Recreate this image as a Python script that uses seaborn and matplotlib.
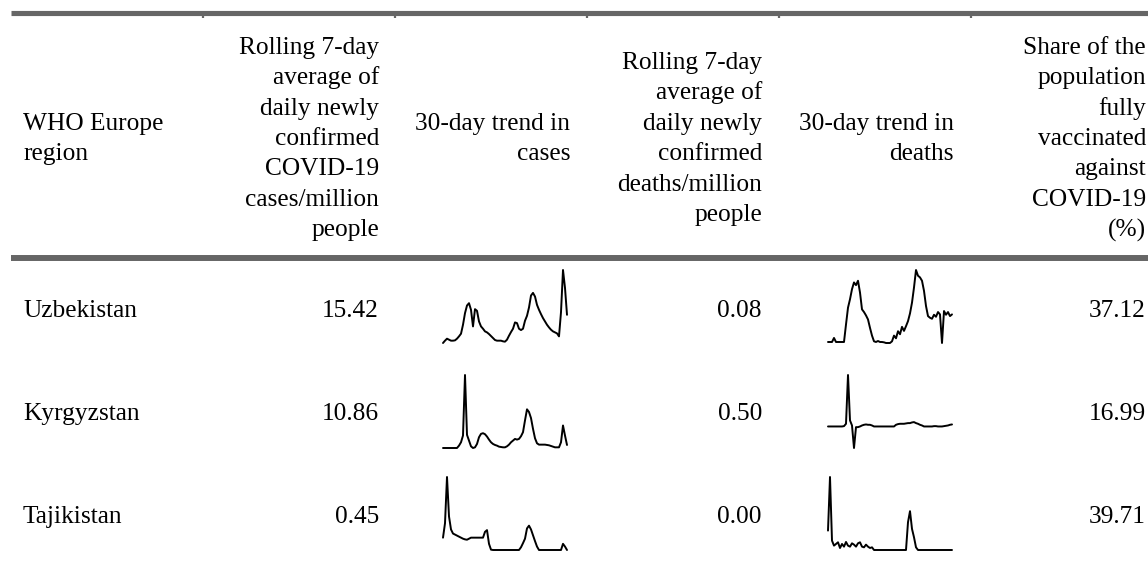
import matplotlib
matplotlib.use("Agg")
import matplotlib.pyplot as plt
import seaborn as sns

# Table content
regions = ["Uzbekistan", "Kyrgyzstan", "Tajikistan"]
cases_per_million = ["15.42", "10.86", "0.45"]
deaths_per_million = ["0.08", "0.50", "0.00"]
share_vaccinated = ["37.12", "16.99", "39.71"]

headers = [
    ["WHO Europe", "region"],
    ["Rolling 7-day", "average of", "daily newly", "confirmed", "COVID-19", "cases/million", "people"],
    ["30-day trend in", "cases"],
    ["Rolling 7-day", "average of", "daily newly", "confirmed", "deaths/million", "people"],
    ["30-day trend in", "deaths"],
    ["Share of the", "population", "fully", "vaccinated", "against", "COVID-19", "(%)"],
]

# Trend values (relative units)
uzb_cases = [0, 7, 13, 10, 7, 7, 8, 13, 20, 28, 55, 90, 113, 120, 100, 50, 102, 97, 65, 50,
             43, 35, 32, 27, 21, 15, 9, 7, 7, 7, 5, 4, 10, 22, 33, 43, 62, 60, 43, 39,
             43, 67, 82, 107, 143, 151, 140, 115, 100, 87, 75, 65, 55, 47, 40, 35, 32, 29, 20, 93,
             220, 166, 85]
uzb_deaths = [3, 3, 3, 15, 3, 3, 3, 3, 3, 55, 105, 130, 160, 180, 172, 185, 150, 100, 92, 82,
              70, 45, 22, 5, 3, 6, 3, 3, 2, 0, 0, 0, 5, 22, 14, 35, 26, 48, 36, 50,
              65, 88, 120, 165, 217, 200, 195, 185, 155, 110, 80, 75, 72, 84, 78, 92, 85, 0, 95, 84,
              92, 80, 85]
kgz_cases = [3, 3, 3, 3, 3, 3, 3, 3, 10, 20, 40, 220, 42, 25, 8, 3, 5, 15, 35, 45,
             47, 44, 37, 28, 20, 15, 12, 10, 7, 6, 5, 5, 8, 13, 20, 25, 30, 28, 30, 38,
             50, 85, 118, 110, 92, 60, 32, 17, 13, 13, 13, 13, 12, 11, 9, 7, 5, 5, 5, 20,
             70, 40, 12]
kgz_deaths = [67, 67, 67, 67, 67, 67, 67, 67, 68, 75, 220, 85, 70, 3, 65, 65, 67, 70, 72, 73,
              72, 72, 70, 67, 67, 67, 67, 67, 67, 67, 67, 67, 67, 67, 72, 74, 75, 75, 75, 76,
              77, 77, 79, 80, 77, 75, 72, 70, 67, 67, 67, 67, 67, 68, 68, 67, 67, 67, 68, 69,
              70, 72, 73]
tjk_cases = [38, 80, 215, 100, 62, 50, 47, 44, 41, 38, 35, 33, 32, 35, 38, 38, 38, 38, 38, 38,
             38, 55, 60, 20, 3, 2, 2, 2, 2, 2, 2, 2, 2, 2, 2, 2, 2, 2, 2, 10,
             22, 35, 65, 73, 62, 45, 28, 12, 2, 2, 2, 2, 2, 2, 2, 2, 2, 2, 2, 2,
             20, 12, 2]
tjk_deaths = [60, 220, 30, 15, 20, 25, 8, 20, 12, 26, 15, 12, 22, 18, 12, 22, 25, 12, 10, 18,
              12, 8, 10, 2, 2, 2, 2, 2, 2, 2, 2, 2, 2, 2, 2, 2, 2, 2, 2, 2,
              85, 118, 65, 40, 10, 2, 2, 2, 2, 2, 2, 2, 2, 2, 2, 2, 2, 2, 2, 2,
              2, 2, 2]

case_trends = [uzb_cases, kgz_cases, tjk_cases]
death_trends = [uzb_deaths, kgz_deaths, tjk_deaths]

sns.set_theme(style="white")
plt.rcParams["font.family"] = ["Liberation Serif", "DejaVu Serif"]

W, H = 1148, 563
fig = plt.figure(figsize=(W / 100, H / 100), dpi=100)
fig.patch.set_facecolor("white")

# Full-figure axes in pixel units for the table layout
ax = fig.add_axes([0, 0, 1, 1])
ax.set_xlim(0, W)
ax.set_ylim(H, 0)
ax.axis("off")

fs = 18.3
rule = "#666666"
ax.hlines(12.5, 11, W, color=rule, linewidth=3.7)
ax.hlines(258, 11, W, color=rule, linewidth=4.3)
for bx in [203, 395, 587, 779, 971]:
    ax.vlines(bx, 15, 17.5, color=rule, linewidth=1.6)

# header
col_x = [23, 379, 570, 762, 954, 1146]
col_ha = ["left", "right", "right", "right", "right", "right"]
spacing = 30.4
for lines, x, ha in zip(headers, col_x, col_ha):
    n = len(lines)
    for i, line in enumerate(lines):
        c = 137 + (i - (n - 1) / 2) * spacing
        ax.text(x, c + 8, line, ha=ha, va="baseline", fontsize=fs, color="black")

# body rows
row_base = [317, 420, 523]
for r, yb in enumerate(row_base):
    ax.text(23, yb, regions[r], ha="left", va="baseline", fontsize=fs, color="black")
    ax.text(379, yb, cases_per_million[r], ha="right", va="baseline", fontsize=fs, color="black")
    ax.text(762, yb, deaths_per_million[r], ha="right", va="baseline", fontsize=fs, color="black")
    ax.text(1146, yb, share_vaccinated[r], ha="right", va="baseline", fontsize=fs, color="black")

# sparklines
spark_tops = [270, 375, 477]
spark_h = 73
spark_w = 124
for r, top in enumerate(spark_tops):
    for left, series in [(443, case_trends[r]), (828, death_trends[r])]:
        sax = fig.add_axes([left / W, 1 - (top + spark_h) / H, spark_w / W, spark_h / H])
        sns.lineplot(x=list(range(len(series))), y=series, ax=sax, color="black",
                     linewidth=1.4, clip_on=False)
        sax.set_xlim(0, len(series) - 1)
        sax.set_ylim(min(series), max(series))
        sax.axis("off")

fig.savefig("out.png", dpi=100, facecolor="white")
